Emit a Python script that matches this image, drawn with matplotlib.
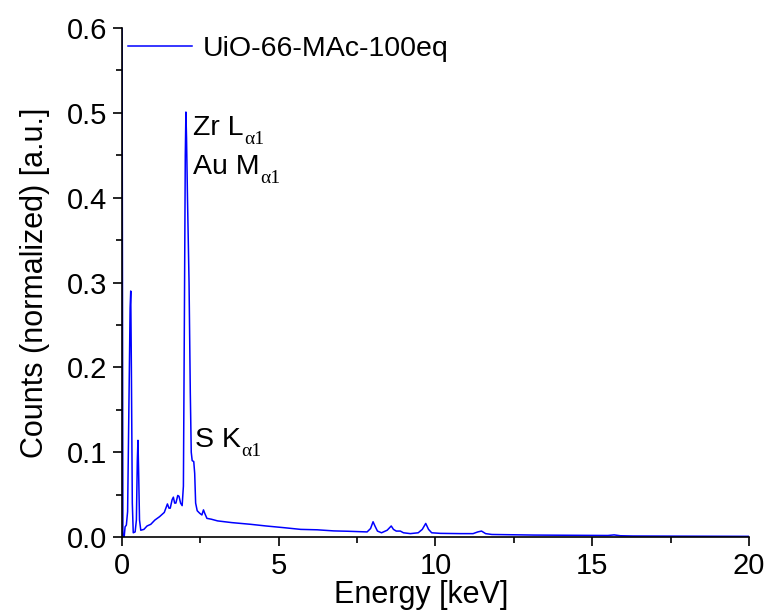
import matplotlib
matplotlib.use("Agg")
from matplotlib import pyplot as plt
from matplotlib.ticker import MultipleLocator, FormatStrFormatter

plt.rcParams['font.family'] = ['Liberation Sans', 'DejaVu Sans']

# EDX spectrum (energy in keV, normalized counts)
energy = [0.0, 0.03, 0.07, 0.10, 0.14, 0.18, 0.22, 0.26, 0.28, 0.30, 0.33, 0.36,
          0.42, 0.46, 0.49, 0.51, 0.53, 0.56, 0.60, 0.70, 0.80, 0.92, 1.05, 1.20,
          1.35, 1.45, 1.50, 1.54, 1.60, 1.64, 1.68, 1.72, 1.78, 1.82, 1.87, 1.92,
          1.96, 1.99, 2.02, 2.04, 2.06, 2.09, 2.14, 2.18, 2.21, 2.24, 2.29, 2.32,
          2.35, 2.40, 2.48, 2.55, 2.60, 2.64, 2.71, 2.85, 3.05, 3.50, 4.10, 4.60,
          5.17, 5.70, 6.23, 6.76, 7.20, 7.82, 7.93, 8.01, 8.07, 8.15, 8.28, 8.46,
          8.59, 8.66, 8.75, 8.88, 8.98, 9.20, 9.45, 9.58, 9.69, 9.78, 9.88, 10.16,
          10.80, 11.20, 11.35, 11.47, 11.60, 11.80, 13.14, 15.50, 15.70, 15.90,
          16.30, 18.00, 20.00]
counts = [0.65, 0.0, 0.0, 0.012, 0.014, 0.03, 0.15, 0.27, 0.29, 0.20, 0.04, 0.005,
          0.006, 0.02, 0.09, 0.114, 0.08, 0.02, 0.008, 0.009, 0.013, 0.015, 0.020, 0.024,
          0.029, 0.039, 0.034, 0.034, 0.044, 0.047, 0.040, 0.040, 0.049, 0.048, 0.040, 0.037,
          0.060, 0.25, 0.45, 0.501, 0.47, 0.40, 0.30, 0.17, 0.10, 0.090, 0.089, 0.075,
          0.040, 0.031, 0.028, 0.026, 0.032, 0.028, 0.022, 0.021, 0.019, 0.017, 0.015, 0.013,
          0.011, 0.009, 0.0085, 0.0072, 0.0068, 0.006, 0.010, 0.018, 0.013, 0.007, 0.005, 0.008,
          0.013, 0.009, 0.007, 0.007, 0.005, 0.004, 0.005, 0.009, 0.016, 0.009, 0.005, 0.0043,
          0.004, 0.004, 0.006, 0.007, 0.004, 0.003, 0.0023, 0.0018, 0.0025, 0.0015,
          0.0012, 0.001, 0.0008]

# peak labels: baseline position, main text, subscript
peak_x = [2.265, 2.265, 2.33]
peak_y = [0.474, 0.428, 0.106]
peak_main = ['Zr L', 'Au M', 'S K']
peak_sub = ['\u03b11', '\u03b11', '\u03b11']

fig = plt.figure(figsize=(7.69, 6.15), dpi=100)
ax = fig.add_axes([0.1586, 0.1268, 0.8153, 0.8276])

ax.plot(energy, counts, color='#0000ff', lw=1.1, label='UiO-66-MAc-100eq')

ax.set_xlim(0, 20)
ax.set_ylim(0, 0.6)
ax.xaxis.set_major_locator(MultipleLocator(5))
ax.xaxis.set_minor_locator(MultipleLocator(2.5))
ax.yaxis.set_major_locator(MultipleLocator(0.1))
ax.yaxis.set_minor_locator(MultipleLocator(0.05))
ax.yaxis.set_major_formatter(FormatStrFormatter('%.1f'))

for s in ['top', 'right']:
    ax.spines[s].set_visible(False)
for s in ['left', 'bottom']:
    ax.spines[s].set_linewidth(1.2)
ax.tick_params(which='major', direction='out', length=6.5, width=1.2, labelsize=21, pad=4)
ax.tick_params(which='minor', direction='out', length=4, width=1.2)

ax.set_xlabel('Energy [keV]', fontsize=22, labelpad=0)
ax.xaxis.set_label_coords(0.478, -0.085)
ax.set_ylabel('Counts (normalized) [a.u.]', fontsize=22, labelpad=12)

for px, py, m, sub in zip(peak_x, peak_y, peak_main, peak_sub):
    t = ax.text(px, py, m, fontsize=20.5, va='baseline')
    ax.annotate(sub, xy=(1, 0), xycoords=t, xytext=(0.5, -5), textcoords='offset points',
                fontsize=14, family='Liberation Serif', va='bottom', ha='left')

ax.legend(loc='upper left', bbox_to_anchor=(0.01, 0.985), frameon=False, fontsize=20.5,
          handlelength=2.25, handletextpad=0.35, borderaxespad=0, borderpad=0)

fig.savefig('out.png', dpi=100)
